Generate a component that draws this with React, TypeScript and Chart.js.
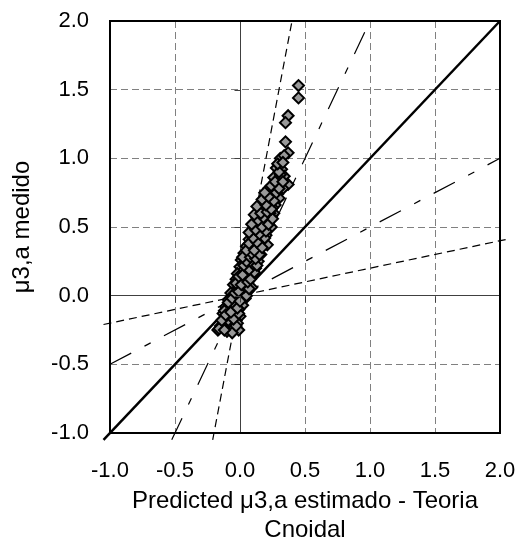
import React, { useEffect, useRef } from 'react';
import { Chart, registerables } from 'chart.js';

Chart.register(...registerables);

// Axis ticks
const TICK_VALUES = [-1, -0.5, 0, 0.5, 1, 1.5, 2];
const TICK_LABELS = ['-1.0', '-0.5', '0.0', '0.5', '1.0', '1.5', '2.0'];

// Titles
const X_TITLE = ['Predicted \u03bc3,a estimado - Teoria', 'Cnoidal'];
const Y_TITLE = '\u03bc3,a medido';

// Scatter: predicted (x) vs measured (y)
const PREDICTED = [
  0.45, 0.45, 0.37, 0.35, 0.35, 0.37, 0.31, 0.28, 0.32, 0.31, 0.37, 0.27, 0.22, 0.25, 0.33, 0.29,
  0.20, 0.24, 0.30, 0.27, 0.19, 0.22, 0.15, 0.18, 0.26, 0.13, 0.20, 0.23, 0.16, 0.11, 0.19, 0.24,
  0.14, 0.09, 0.20, 0.12, 0.07, 0.17, 0.10, 0.14, 0.05, 0.21, 0.08, 0.12, 0.03, 0.16, 0.06, 0.10,
  0.01, 0.14, 0.04, 0.08, 0.00, 0.12, 0.02, 0.06, -0.02, 0.10, 0.03, -0.03, 0.07, 0.00, 0.05, -0.05,
  0.09, 0.02, -0.03, 0.06, -0.07, 0.01, -0.04, 0.04, -0.09, -0.02, 0.02, -0.06, -0.11, -0.08, -0.01, -0.04,
  -0.13, -0.06, 0.00, -0.10, -0.03, -0.12, -0.07, -0.02, -0.15, -0.09, -0.05, -0.17, -0.10, -0.01, -0.06,
  0.26, 0.34, 0.29, 0.23, 0.17, 0.25, 0.21, 0.12, 0.18, 0.15, 0.11, 0.07, 0.13, 0.05, 0.09, 0.01,
  0.04, -0.01, 0.03, -0.05, -0.08, -0.12, -0.09, -0.13, -0.04, 0.31, 0.28, 0.23, 0.19, 0.16, 0.10, 0.06,
  -0.16, -0.12, -0.03, -0.14, -0.05, -0.01, -0.11, -0.07, -0.02, -0.09, -0.06, 0.00, 0.05, -0.04, 0.03, -0.01,
  0.07, -0.03, 0.01, 0.06, 0.08, -0.01, 0.02, 0.11, 0.07, 0.03, 0.10, 0.13, 0.05, 0.02, 0.08, 0.12,
  0.15, 0.09, 0.05, 0.11, 0.17, 0.07, 0.13, 0.19, 0.10, 0.15, 0.07, 0.12, 0.20, 0.17, 0.22, 0.09,
  0.14, 0.25, 0.18, 0.11, 0.16, 0.21, 0.24, 0.13, 0.20, 0.17, 0.26, 0.22, 0.28, 0.19, 0.30, 0.24,
  0.27, 0.33, 0.30, 0.29, 0.34, 0.33,
];
const MEASURED = [
  1.53, 1.44, 1.31, 1.26, 1.12, 1.04, 1.00, 0.93, 0.92, 0.84, 0.81, 0.81, 0.78, 0.76, 0.78, 0.74,
  0.73, 0.70, 0.71, 0.66, 0.67, 0.63, 0.63, 0.59, 0.60, 0.57, 0.55, 0.55, 0.52, 0.50, 0.49, 0.50,
  0.46, 0.45, 0.44, 0.42, 0.41, 0.40, 0.38, 0.36, 0.36, 0.37, 0.33, 0.31, 0.31, 0.30, 0.28, 0.26,
  0.26, 0.25, 0.23, 0.21, 0.21, 0.20, 0.18, 0.17, 0.16, 0.15, 0.13, 0.12, 0.11, 0.09, 0.08, 0.08,
  0.06, 0.05, 0.04, 0.03, 0.02, 0.00, -0.01, -0.02, -0.03, -0.05, -0.07, -0.06, -0.08, -0.10, -0.10, -0.12,
  -0.13, -0.15, -0.15, -0.16, -0.18, -0.20, -0.20, -0.20, -0.22, -0.23, -0.24, -0.25, -0.26, -0.25, -0.27,
  0.86, 0.87, 0.80, 0.68, 0.62, 0.64, 0.58, 0.53, 0.47, 0.43, 0.35, 0.30, 0.28, 0.20, 0.18, 0.11,
  0.15, 0.07, 0.02, -0.03, -0.07, -0.11, -0.18, -0.23, -0.08, 0.88, 0.77, 0.60, 0.54, 0.39, 0.22, 0.12,
  -0.24, -0.25, -0.22, -0.18, -0.17, -0.13, -0.14, -0.12, -0.09, -0.05, -0.02, -0.04, 0.00, 0.02, 0.06, 0.03,
  0.05, 0.09, 0.08, 0.10, 0.12, 0.14, 0.15, 0.17, 0.19, 0.22, 0.23, 0.22, 0.25, 0.28, 0.28, 0.27,
  0.30, 0.31, 0.33, 0.33, 0.35, 0.38, 0.39, 0.42, 0.42, 0.45, 0.46, 0.48, 0.47, 0.50, 0.52, 0.52,
  0.55, 0.56, 0.57, 0.59, 0.60, 0.61, 0.63, 0.65, 0.66, 0.70, 0.69, 0.72, 0.75, 0.75, 0.78, 0.80,
  0.83, 0.83, 0.90, 0.96, 1.02, 0.97,
];

// Reference lines (end points, in axis units)
const LINE_1_1_X = [-1.05, 2];
const LINE_1_1_Y = [-1.05, 2];
const LINE_SLOPE5_X = [-0.21, 0.4];
const LINE_SLOPE5_Y = [-1.05, 2];
const LINE_SLOPE2_X = [-0.525, 1];
const LINE_SLOPE2_Y = [-1.05, 2];
const LINE_HALF_X = [-1, 2];
const LINE_HALF_Y = [-0.5, 1];
const LINE_FIFTH_X = [-1.05, 2.06];
const LINE_FIFTH_Y = [-0.21, 0.412];

const FONT = "'Liberation Sans', Arial, sans-serif";

const toPoints = (xs: number[], ys: number[]) => xs.map((x, i) => ({ x, y: ys[i] }));

const framePlugin = {
  id: 'frame',
  afterDatasetsDraw(chart: any) {
    const { ctx, chartArea: a, scales } = chart;
    const xs = scales.x;
    const ys = scales.y;
    const x0 = Math.round(xs.getPixelForValue(0)) + 0.5;
    const y0 = Math.round(ys.getPixelForValue(0)) + 0.5;
    ctx.save();
    ctx.strokeStyle = '#404040';
    ctx.lineWidth = 1;
    ctx.setLineDash([]);
    ctx.beginPath();
    for (const v of TICK_VALUES) {
      const py = Math.round(ys.getPixelForValue(v)) + 0.5;
      ctx.moveTo(x0 - 6, py);
      ctx.lineTo(x0, py);
      const px = Math.round(xs.getPixelForValue(v)) + 0.5;
      ctx.moveTo(px, y0);
      ctx.lineTo(px, y0 + 6);
    }
    ctx.stroke();
    ctx.strokeStyle = '#000000';
    ctx.lineWidth = 2;
    ctx.strokeRect(a.left, a.top, a.right - a.left, a.bottom - a.top);
    ctx.restore();
  },
};

const gridColor = (c: any) => (c.tick && c.tick.value === 0 ? '#404040' : '#808080');
const gridDash = (c: any) => (c.tick && c.tick.value === 0 ? [] : [7, 4]);

const noPad = (s: any) => {
  s.paddingTop = 0;
  s.paddingBottom = 0;
  s.paddingLeft = 0;
  s.paddingRight = 0;
};

export default function App() {
  const ref = useRef<HTMLCanvasElement | null>(null);

  useEffect(() => {
    if (!ref.current) return;
    const lineDs = (label: string, xs: number[], ys: number[], width: number, dash: number[]) => ({
      type: 'scatter' as const,
      label,
      data: toPoints(xs, ys),
      showLine: true,
      borderColor: '#000000',
      borderWidth: width,
      borderDash: dash,
      pointRadius: 0,
      fill: false,
      clip: 8,
    });
    const chart = new Chart(ref.current, {
      type: 'scatter',
      data: {
        datasets: [
          {
            label: 'medido',
            data: toPoints(PREDICTED, MEASURED),
            pointStyle: 'rectRot',
            pointRadius: 5.5,
            backgroundColor: '#999999',
            borderColor: '#000000',
            borderWidth: 2,
            showLine: false,
          },
          lineDs('1:1', LINE_1_1_X, LINE_1_1_Y, 2.5, []),
          lineDs('5:1', LINE_SLOPE5_X, LINE_SLOPE5_Y, 1.2, [8, 5]),
          lineDs('2:1', LINE_SLOPE2_X, LINE_SLOPE2_Y, 1.2, [24, 15, 7, 15]),
          lineDs('1:2', LINE_HALF_X, LINE_HALF_Y, 1.2, [24, 15, 7, 15]),
          lineDs('1:5', LINE_FIFTH_X, LINE_FIFTH_Y, 1.2, [8, 5]),
        ] as any,
      },
      options: {
        animation: false,
        responsive: false,
        maintainAspectRatio: false,
        layout: { padding: { top: 21, right: 19, left: 0, bottom: 0 } },
        plugins: { legend: { display: false }, tooltip: { enabled: false } },
        scales: {
          x: {
            type: 'linear',
            min: -1,
            max: 2,
            afterBuildTicks: (s: any) => {
              s.ticks = TICK_VALUES.map((value) => ({ value }));
            },
            afterFit: (s: any) => {
              s.height = 111;
              noPad(s);
            },
            ticks: {
              callback: (v: any) => TICK_LABELS[TICK_VALUES.indexOf(Number(v))] ?? '',
              color: '#000000',
              font: { family: FONT, size: 22 },
              padding: 25,
              maxRotation: 0,
              autoSkip: false,
            },
            grid: { color: gridColor, lineWidth: 1, drawTicks: false },
            border: { display: false, dash: gridDash },
            title: {
              display: true,
              text: X_TITLE,
              color: '#000000',
              font: { family: FONT, size: 24, lineHeight: '29px' },
              padding: { top: 0, bottom: -1 },
            },
          },
          y: {
            type: 'linear',
            min: -1,
            max: 2,
            afterBuildTicks: (s: any) => {
              s.ticks = TICK_VALUES.map((value) => ({ value }));
            },
            afterFit: (s: any) => {
              s.width = 110;
              noPad(s);
            },
            ticks: {
              callback: (v: any) => TICK_LABELS[TICK_VALUES.indexOf(Number(v))] ?? '',
              color: '#000000',
              font: { family: FONT, size: 22 },
              padding: 21,
              autoSkip: false,
            },
            grid: { color: gridColor, lineWidth: 1, drawTicks: false },
            border: { display: false, dash: gridDash },
            title: {
              display: true,
              text: Y_TITLE,
              color: '#000000',
              font: { family: FONT, size: 24, lineHeight: '28px' },
              padding: { top: 8, bottom: 0 },
            },
          },
        },
      },
      plugins: [framePlugin],
    } as any);
    return () => chart.destroy();
  }, []);

  return (
    <canvas
      ref={ref}
      width={519}
      height={544}
      style={{ position: 'absolute', left: 0, top: 0, width: 519, height: 544 }}
    />
  );
}
